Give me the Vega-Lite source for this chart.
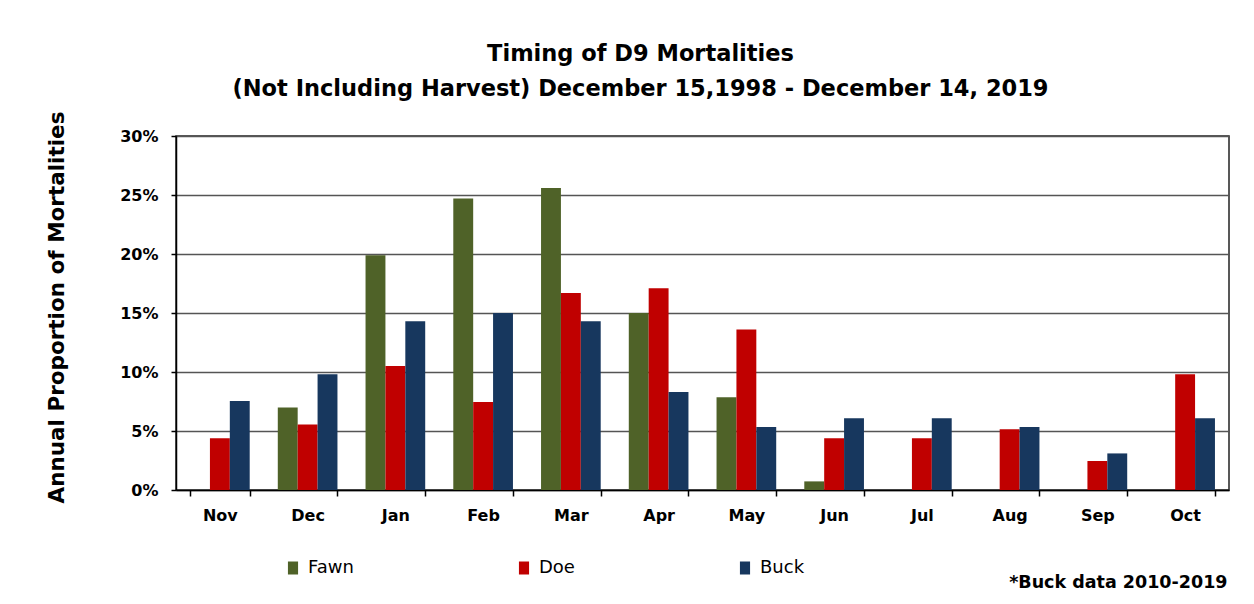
{
  "$schema": "https://vega.github.io/schema/vega-lite/v6.json",
  "width": 1053,
  "height": 354,
  "autosize": {"type": "none"},
  "padding": {"left": 176, "top": 136, "right": 25, "bottom": 114},
  "background": "white",
  "title": {
    "text": ["Timing of D9 Mortalities", "(Not Including Harvest) December 15,1998 - December 14, 2019"],
    "anchor": "middle",
    "frame": "group",
    "dx": -62,
    "dy": 16,
    "offset": 27,
    "font": "DejaVu Sans",
    "fontSize": 22.5,
    "fontWeight": "bold",
    "color": "#000",
    "lineHeight": 35
  },
  "data": {
    "values": [
      {"month": "Nov", "group": "Doe", "value": 0.0438},
      {"month": "Nov", "group": "Buck", "value": 0.0754},
      {"month": "Dec", "group": "Fawn", "value": 0.070},
      {"month": "Dec", "group": "Doe", "value": 0.0556},
      {"month": "Dec", "group": "Buck", "value": 0.098},
      {"month": "Jan", "group": "Fawn", "value": 0.199},
      {"month": "Jan", "group": "Doe", "value": 0.105},
      {"month": "Jan", "group": "Buck", "value": 0.143},
      {"month": "Feb", "group": "Fawn", "value": 0.247},
      {"month": "Feb", "group": "Doe", "value": 0.0746},
      {"month": "Feb", "group": "Buck", "value": 0.150},
      {"month": "Mar", "group": "Fawn", "value": 0.256},
      {"month": "Mar", "group": "Doe", "value": 0.167},
      {"month": "Mar", "group": "Buck", "value": 0.143},
      {"month": "Apr", "group": "Fawn", "value": 0.150},
      {"month": "Apr", "group": "Doe", "value": 0.171},
      {"month": "Apr", "group": "Buck", "value": 0.083},
      {"month": "May", "group": "Fawn", "value": 0.0785},
      {"month": "May", "group": "Doe", "value": 0.136},
      {"month": "May", "group": "Buck", "value": 0.0534},
      {"month": "Jun", "group": "Fawn", "value": 0.0073},
      {"month": "Jun", "group": "Doe", "value": 0.0438},
      {"month": "Jun", "group": "Buck", "value": 0.0607},
      {"month": "Jul", "group": "Doe", "value": 0.0438},
      {"month": "Jul", "group": "Buck", "value": 0.0607},
      {"month": "Aug", "group": "Doe", "value": 0.0514},
      {"month": "Aug", "group": "Buck", "value": 0.0534},
      {"month": "Sep", "group": "Doe", "value": 0.0246},
      {"month": "Sep", "group": "Buck", "value": 0.031},
      {"month": "Oct", "group": "Doe", "value": 0.098},
      {"month": "Oct", "group": "Buck", "value": 0.0607}
    ]
  },
  "mark": {"type": "bar"},
  "encoding": {
    "x": {
      "field": "month",
      "type": "nominal",
      "sort": ["Nov", "Dec", "Jan", "Feb", "Mar", "Apr", "May", "Jun", "Jul", "Aug", "Sep", "Oct"],
      "scale": {"paddingInner": 0.32, "paddingOuter": 0.16},
      "axis": {
        "title": "*Buck data 2010-2019",
        "titleAnchor": "end",
        "titleAlign": "right",
        "titleX": 1051,
        "titleY": 83,
        "titleFont": "DejaVu Sans",
        "titleFontSize": 17.5,
        "titleFontWeight": "bold",
        "titleColor": "#000",
        "labelAngle": 0,
        "labelFont": "DejaVu Sans",
        "labelFontSize": 16,
        "labelFontWeight": "bold",
        "labelColor": "#000",
        "labelPadding": 11,
        "tickBand": "extent",
        "tickSize": 6,
        "tickColor": "#000",
        "tickWidth": 1.5,
        "domainColor": "#000",
        "domainWidth": 1.5
      }
    },
    "xOffset": {
      "field": "group",
      "type": "nominal",
      "sort": ["Fawn", "Doe", "Buck"],
      "scale": {"paddingInner": 0, "paddingOuter": 0}
    },
    "y": {
      "field": "value",
      "type": "quantitative",
      "scale": {"domain": [0, 0.3], "nice": false},
      "axis": {
        "title": "Annual Proportion of Mortalities",
        "titleFont": "DejaVu Sans",
        "titleFontSize": 21.5,
        "titleFontWeight": "bold",
        "titleColor": "#000",
        "titleAngle": -90,
        "titleAnchor": "middle",
        "titleBaseline": "middle",
        "titleX": -119,
        "titleY": 171,
        "values": [0, 0.05, 0.1, 0.15, 0.2, 0.25, 0.3],
        "format": ".0%",
        "labelFont": "DejaVu Sans",
        "labelFontSize": 16,
        "labelFontWeight": "bold",
        "labelColor": "#000",
        "labelPadding": 13,
        "tickSize": 5,
        "tickColor": "#000",
        "tickWidth": 1.5,
        "domainColor": "#000",
        "domainWidth": 1.5,
        "grid": true,
        "gridColor": "#555",
        "gridWidth": 1.5
      }
    },
    "color": {
      "field": "group",
      "type": "nominal",
      "sort": ["Fawn", "Doe", "Buck"],
      "scale": {"domain": ["Fawn", "Doe", "Buck"], "range": ["#4f6228", "#c00000", "#17375e"]},
      "legend": {
        "title": null,
        "orient": "none",
        "direction": "horizontal",
        "legendX": 108,
        "legendY": 423,
        "symbolType": "M-0.78,-1H0.78V1H-0.78Z",
        "symbolSize": 169,
        "symbolStrokeWidth": 0,
        "symbolOpacity": 1,
        "labelFont": "DejaVu Sans",
        "labelFontSize": 18,
        "labelColor": "#000",
        "labelOffset": 6,
        "columnPadding": 161
      }
    }
  },
  "config": {
    "view": {"stroke": "#222", "strokeWidth": 1.5}
  }
}
